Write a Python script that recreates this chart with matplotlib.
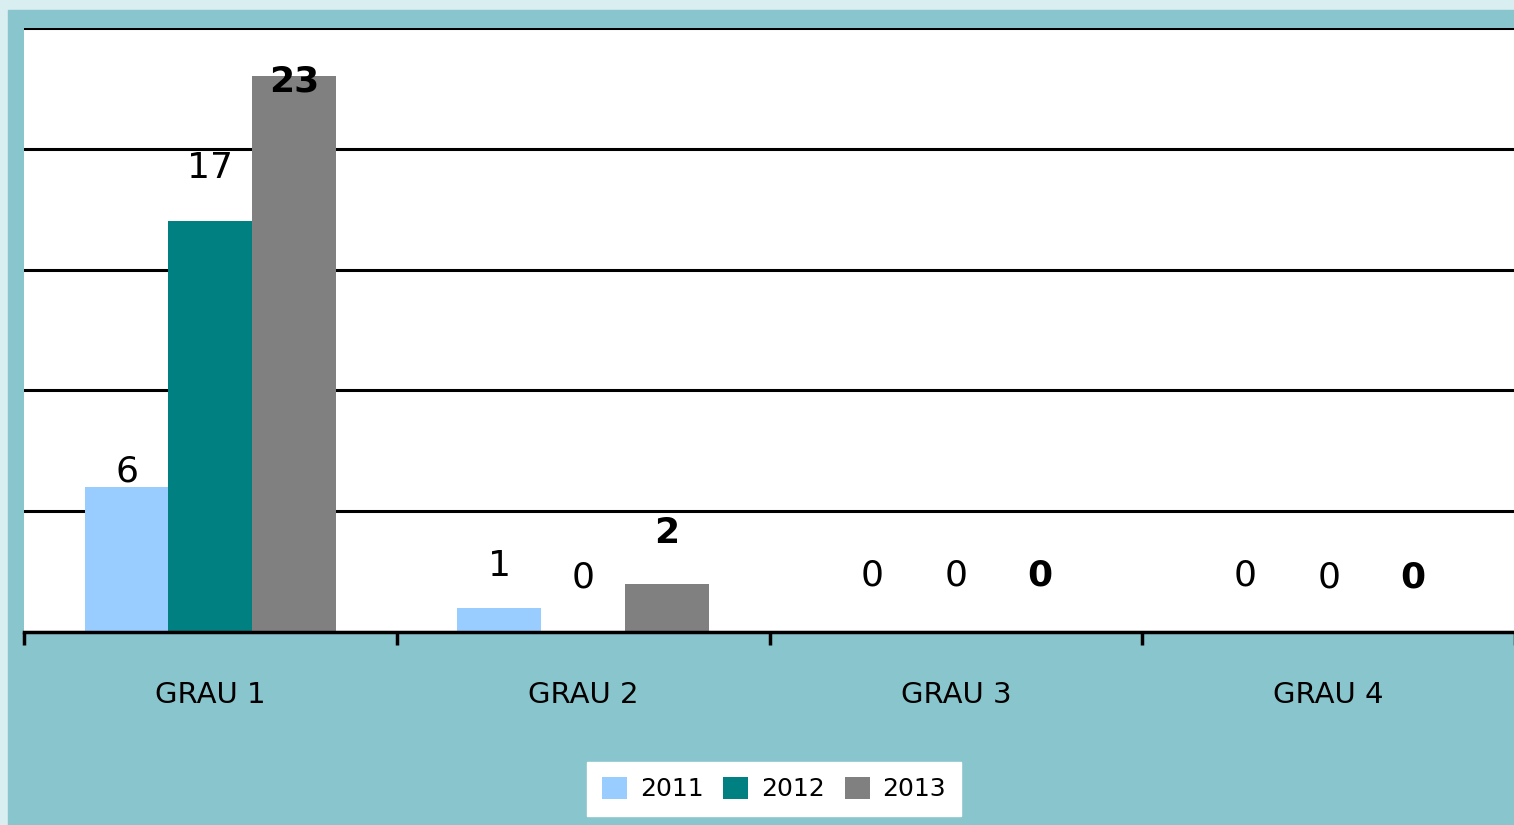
import matplotlib
matplotlib.use('Agg')

import numpy as np
import matplotlib.pyplot as plt
from matplotlib.patches import Rectangle

categories = ['GRAU 1', 'GRAU 2', 'GRAU 3', 'GRAU 4']
years = ['2011', '2012', '2013']
v2011 = [6, 1, 0, 0]
v2012 = [17, 0, 0, 0]
v2013 = [23, 2, 0, 0]

colors = ['#99CCFF', '#008080', '#808080']
teal = '#89C5CC'
pale = '#D9EEF0'

# label offsets above bar top, in pixels (as placed in the original)
label_dy = [[16, 42, 56, 56],
            [53, 54, 56, 54],
            [-5, 51, 56, 54]]

plt.rcParams['font.family'] = ['DejaVu Sans']

fig = plt.figure(figsize=(15.14, 8.25), dpi=100)
fig.patch.set_facecolor(pale)
fig.patches.append(Rectangle((8 / 1514, 0), 1, (825 - 10) / 825,
                             transform=fig.transFigure, color=teal, zorder=-10))

ax = fig.add_axes([24 / 1514, 193 / 825, 1491 / 1514, 604 / 825])
ax.set_facecolor('white')

x = np.arange(len(categories))
w = 0.225
series = [v2011, v2012, v2013]
for i, vals in enumerate(series):
    bars = ax.bar(x + (i - 1) * w, vals, w, color=colors[i], label=years[i], zorder=3)
    for j, b in enumerate(bars):
        ax.annotate(str(vals[j]), (b.get_x() + b.get_width() / 2, b.get_height()),
                    xytext=(0, label_dy[i][j] * 0.72), textcoords='offset points',
                    ha='center', va='center', fontsize=26,
                    fontweight='bold' if i == 2 else 'normal', zorder=5)

ax.set_xlim(-0.5, 3.5)
ax.set_ylim(0, 25)
ax.set_yticks(np.arange(0, 26, 5))
ax.yaxis.grid(True, color='black', linewidth=2.2, zorder=1)
ax.tick_params(axis='y', left=False, labelleft=False)

ax.set_xticks(np.arange(-0.5, 4, 1))
ax.set_xticklabels([])
ax.set_xticks(x, minor=True)
ax.set_xticklabels(categories, minor=True, fontsize=21)
ax.tick_params(axis='x', which='major', direction='out', length=9, width=2.5, color='black')
ax.tick_params(axis='x', which='minor', length=0, pad=35)

for s in ['top', 'right', 'left']:
    ax.spines[s].set_visible(False)
ax.spines['bottom'].set_linewidth(2.5)
ax.spines['bottom'].set_zorder(4)

leg = fig.legend(loc='center', bbox_to_anchor=(774 / 1514, 36 / 825), ncol=3,
                 fontsize=18, frameon=True, fancybox=False, edgecolor='white',
                 framealpha=1, handlelength=1.0, handleheight=1.0, handletextpad=0.5,
                 columnspacing=0.8, borderpad=0.6, borderaxespad=0)
leg.get_frame().set_facecolor('white')

fig.savefig('out.png', dpi=100, facecolor=fig.get_facecolor())
